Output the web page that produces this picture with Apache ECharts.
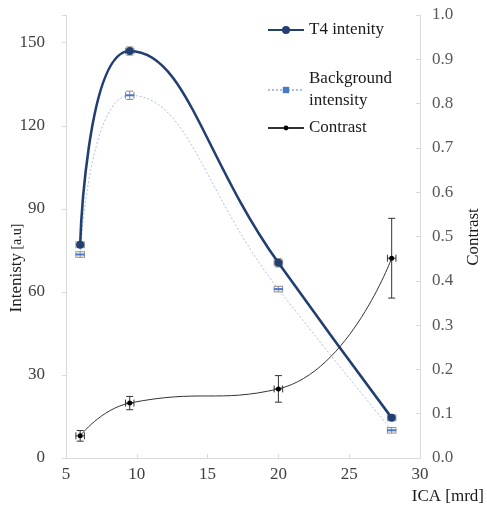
<!DOCTYPE html>
<html>
<head>
<meta charset="utf-8">
<script src="https://cdn.jsdelivr.net/npm/echarts@6/dist/echarts.min.js"></script>
<style>
  html, body { margin: 0; padding: 0; background: #fff; }
  #chart { width: 487px; height: 521px; }
</style>
</head>
<body>
<div id="chart"></div>
<script>
// ICA angle [mrd]
const ica = [6, 9.5, 20, 28];

// intensities [a.u] and their errors
const t4Intensity = [77, 147, 70.5, 14.5];
const t4Err = [1, 1.5, 1.5, 1];
const bgIntensity = [73.5, 131, 61, 10];
const bgErr = [1, 1.5, 1, 1];

// contrast (right axis)
const contrast = [0.05, 0.124, 0.156, 0.451];
const contrastErr = [0.012, 0.015, 0.03, 0.09];

// horizontal error on ICA
const icaErr = [0.3, 0.3, 0.3, 0.3];

const leftTicks = [0, 30, 60, 90, 120, 150];

const FONT = '"Liberation Serif", "DejaVu Serif", serif';

const chart = echarts.init(document.getElementById('chart'));

function pairs(ys) {
  return ica.map((x, i) => [x, ys[i]]);
}

function errData(ys, errs) {
  return ica.map((x, i) => [x, ys[i], errs[i], icaErr[i]]);
}

function errorBars(color) {
  return function (params, api) {
    const x = api.value(0);
    const y = api.value(1);
    const ye = api.value(2);
    const xe = api.value(3);
    const top = api.coord([x, y + ye]);
    const bot = api.coord([x, y - ye]);
    const lft = api.coord([x - xe, y]);
    const rgt = api.coord([x + xe, y]);
    const cap = 3.5;
    const style = { stroke: color, lineWidth: 1 };
    const line = (x1, y1, x2, y2) => ({
      type: 'line', shape: { x1, y1, x2, y2 }, style
    });
    return {
      type: 'group',
      children: [
        line(top[0], top[1], bot[0], bot[1]),
        line(top[0] - cap, top[1], top[0] + cap, top[1]),
        line(bot[0] - cap, bot[1], bot[0] + cap, bot[1]),
        line(lft[0], lft[1], rgt[0], rgt[1]),
        line(lft[0], lft[1] - cap, lft[0], lft[1] + cap),
        line(rgt[0], rgt[1] - cap, rgt[0], rgt[1] + cap)
      ]
    };
  };
}

const legendText = { fontFamily: FONT, fontSize: 17, color: '#1a1a1a', lineHeight: 22 };

const option = {
  animation: false,
  textStyle: { fontFamily: FONT },
  grid: { left: 66, right: 67, top: 15, bottom: 63, containLabel: false },
  legend: [
    {
      data: ['T4 intenity'], left: 262, top: 14,
      itemWidth: 36, itemHeight: 10, itemGap: 5, textStyle: legendText
    },
    {
      data: ['Background\nintensity'], left: 262, top: 63,
      itemWidth: 36, itemHeight: 8, textStyle: legendText
    },
    {
      data: ['Contrast'], left: 262, top: 112,
      itemWidth: 36, itemHeight: 6, textStyle: legendText
    }
  ],
  xAxis: {
    type: 'value', min: 5, max: 30, interval: 5,
    axisLine: { lineStyle: { color: '#d9d9d9' } },
    axisTick: { show: true, inside: true, length: 4, lineStyle: { color: '#d9d9d9' } },
    splitLine: { show: false },
    axisLabel: { fontFamily: FONT, fontSize: 17, color: '#404040', margin: 8 }
  },
  yAxis: [
    {
      type: 'value', min: 0, max: 160, interval: 30,
      axisLine: { show: true, lineStyle: { color: '#d9d9d9' } },
      axisTick: { show: true, length: 4, lineStyle: { color: '#d9d9d9' } },
      splitLine: { show: false },
      axisLabel: {
        fontFamily: FONT, fontSize: 17, color: '#404040', margin: 21,
        formatter: v => (leftTicks.includes(v) ? String(v) : '')
      }
    },
    {
      type: 'value', min: 0, max: 1, interval: 0.1, position: 'right',
      axisLine: { show: true, lineStyle: { color: '#d9d9d9' } },
      axisTick: { show: true, inside: true, length: 4, lineStyle: { color: '#d9d9d9' } },
      splitLine: { show: false },
      axisLabel: {
        fontFamily: FONT, fontSize: 17, color: '#595959', margin: 12,
        formatter: v => v.toFixed(1)
      }
    }
  ],
  graphic: [
    {
      type: 'text', x: 17, y: 268, rotation: Math.PI / 2,
      style: {
        text: '{a|Intenisty} {b|[a.u]}',
        align: 'center', verticalAlign: 'middle',
        rich: {
          a: { fontFamily: FONT, fontSize: 17, fill: '#1a1a1a' },
          b: { fontFamily: FONT, fontSize: 14, fill: '#1a1a1a' }
        }
      }
    },
    {
      type: 'text', x: 474, y: 237, rotation: Math.PI / 2,
      style: {
        text: 'Contrast', fontFamily: FONT, fontSize: 17, fill: '#1a1a1a',
        align: 'center', verticalAlign: 'middle'
      }
    },
    {
      type: 'text', x: 484, y: 497,
      style: {
        text: 'ICA [mrd]', fontFamily: FONT, fontSize: 17, fill: '#1a1a1a',
        align: 'right', verticalAlign: 'middle'
      }
    }
  ],
  series: [
    {
      type: 'custom', name: 'bgErr', yAxisIndex: 0, z: 1,
      renderItem: errorBars('#8c8c8c'), data: errData(bgIntensity, bgErr)
    },
    {
      type: 'custom', name: 't4Err', yAxisIndex: 0, z: 1,
      renderItem: errorBars('#8c8c8c'), data: errData(t4Intensity, t4Err)
    },
    {
      type: 'custom', name: 'cErr', yAxisIndex: 1, z: 1,
      renderItem: errorBars('#333333'), data: errData(contrast, contrastErr)
    },
    {
      name: 'Background\nintensity', type: 'line', yAxisIndex: 0, z: 2,
      data: pairs(bgIntensity), smooth: 0.5,
      symbol: 'rect', symbolSize: [9, 2],
      itemStyle: { color: '#4a78c8' },
      lineStyle: { color: '#a9c0e8', width: 1, type: [2, 2] }
    },
    {
      name: 'T4 intenity', type: 'line', yAxisIndex: 0, z: 3,
      data: pairs(t4Intensity), smooth: 0.5,
      symbol: 'circle', symbolSize: 8,
      itemStyle: { color: '#223f72' },
      lineStyle: { color: '#223f72', width: 2.6 }
    },
    {
      name: 'Contrast', type: 'line', yAxisIndex: 1, z: 3,
      data: pairs(contrast), smooth: 0.5,
      symbol: 'circle', symbolSize: 5,
      itemStyle: { color: '#000' },
      lineStyle: { color: '#333', width: 1 }
    }
  ]
};

chart.setOption(option);
</script>
</body>
</html>
